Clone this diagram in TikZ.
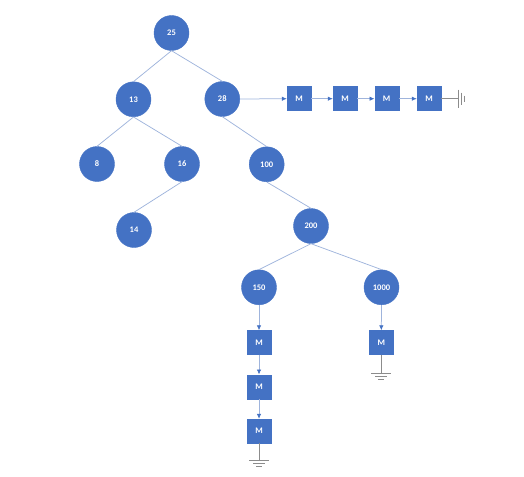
\documentclass[tikz,border=0pt]{standalone}
\usepackage{fontspec}
\setmainfont{Carlito}
\usetikzlibrary{arrows.meta,calc}
\definecolor{nodeblue}{HTML}{4472C4}
\definecolor{edgecol}{HTML}{9FB4DC}
\definecolor{gndcol}{HTML}{8C8C8C}
\begin{document}
\begin{tikzpicture}[x=1pt,y=-1pt,
  tnode/.style={circle,fill=nodeblue,draw=nodeblue,minimum size=35pt,inner sep=0pt,text=white,font=\fontsize{8.5}{9}\selectfont\bfseries},
  mbox/.style={rectangle,fill=nodeblue,draw=nodeblue,minimum size=24pt,inner sep=0pt,text=white,font=\fontsize{8.5}{9}\selectfont\bfseries},
  tedge/.style={draw=edgecol,line width=0.75pt},
  aedge/.style={draw=edgecol,line width=0.75pt,-{Latex[length=5pt,width=4.5pt,color=nodeblue]}},
  gnd/.style={draw=gndcol,line width=0.9pt}]
\useasboundingbox (0,0) rectangle (524,476);
\node[tnode] (n25) at (171.5,33) {25};
\node[tnode] (n13) at (133.5,99.3) {13};
\node[tnode] (n28) at (222.3,99) {28};
\node[tnode] (n8) at (97,164) {8};
\node[tnode] (n16) at (182,164) {16};
\node[tnode] (n14) at (134,230) {14};
\node[tnode] (n100) at (266.7,164.3) {100};
\node[tnode] (n200) at (311,226) {200};
\node[tnode] (n150) at (259,287.3) {150};
\node[tnode] (n1000) at (381.5,287.3) {1000};
\node[mbox] (h1) at (299,98.7) {M};
\node[mbox] (h2) at (345,98.7) {M};
\node[mbox] (h3) at (386.7,98.7) {M};
\node[mbox] (h4) at (429,98.7) {M};
\node[mbox] (v1) at (259,342.5) {M};
\node[mbox] (v2) at (259,386.7) {M};
\node[mbox] (v3) at (259,431) {M};
\node[mbox] (w1) at (381.3,342.5) {M};
\coordinate (g1) at (458,98.7);
\coordinate (g2) at (259,460);
\coordinate (g3) at (381.3,373);
\draw[tedge] (n25.south) -- (n13.north);
\draw[tedge] (n25.south) -- (n28.north);
\draw[tedge] (n13.south) -- (n8.north);
\draw[tedge] (n13.south) -- (n16.north);
\draw[tedge] (n16.south) -- (n14.north);
\draw[tedge] (n28.south) -- (n100.north);
\draw[tedge] (n100.south) -- (n200.north);
\draw[tedge] (n200.south) -- (n150.north);
\draw[tedge] (n200.south) -- (n1000.north);
\draw[aedge] (n28.east) -- (h1.west);
\draw[aedge] (h1.east) -- (h2.west);
\draw[aedge] (h2.east) -- (h3.west);
\draw[aedge] (h3.east) -- (h4.west);
\draw[aedge] (n150.south) -- (v1.north);
\draw[aedge] (v1.south) -- (v2.north);
\draw[aedge] (v2.south) -- (v3.north);
\draw[aedge] (n1000.south) -- (w1.north);
% grounds
\draw[gnd] (h4.east) -- (g1);
\draw[gnd] ($(g1)+(0,-9)$) -- ($(g1)+(0,9)$);
\draw[gnd] ($(g1)+(3,-6)$) -- ($(g1)+(3,6)$);
\draw[gnd] ($(g1)+(6,-3)$) -- ($(g1)+(6,3)$);
\draw[gnd] (v3.south) -- (g2);
\draw[gnd] ($(g2)+(-10,0)$) -- ($(g2)+(10,0)$);
\draw[gnd] ($(g2)+(-6,3)$) -- ($(g2)+(6,3)$);
\draw[gnd] ($(g2)+(-3,6)$) -- ($(g2)+(3,6)$);
\draw[gnd] (w1.south) -- (g3);
\draw[gnd] ($(g3)+(-10,0)$) -- ($(g3)+(10,0)$);
\draw[gnd] ($(g3)+(-6,3)$) -- ($(g3)+(6,3)$);
\draw[gnd] ($(g3)+(-3,6)$) -- ($(g3)+(3,6)$);
\end{tikzpicture}
\end{document}
